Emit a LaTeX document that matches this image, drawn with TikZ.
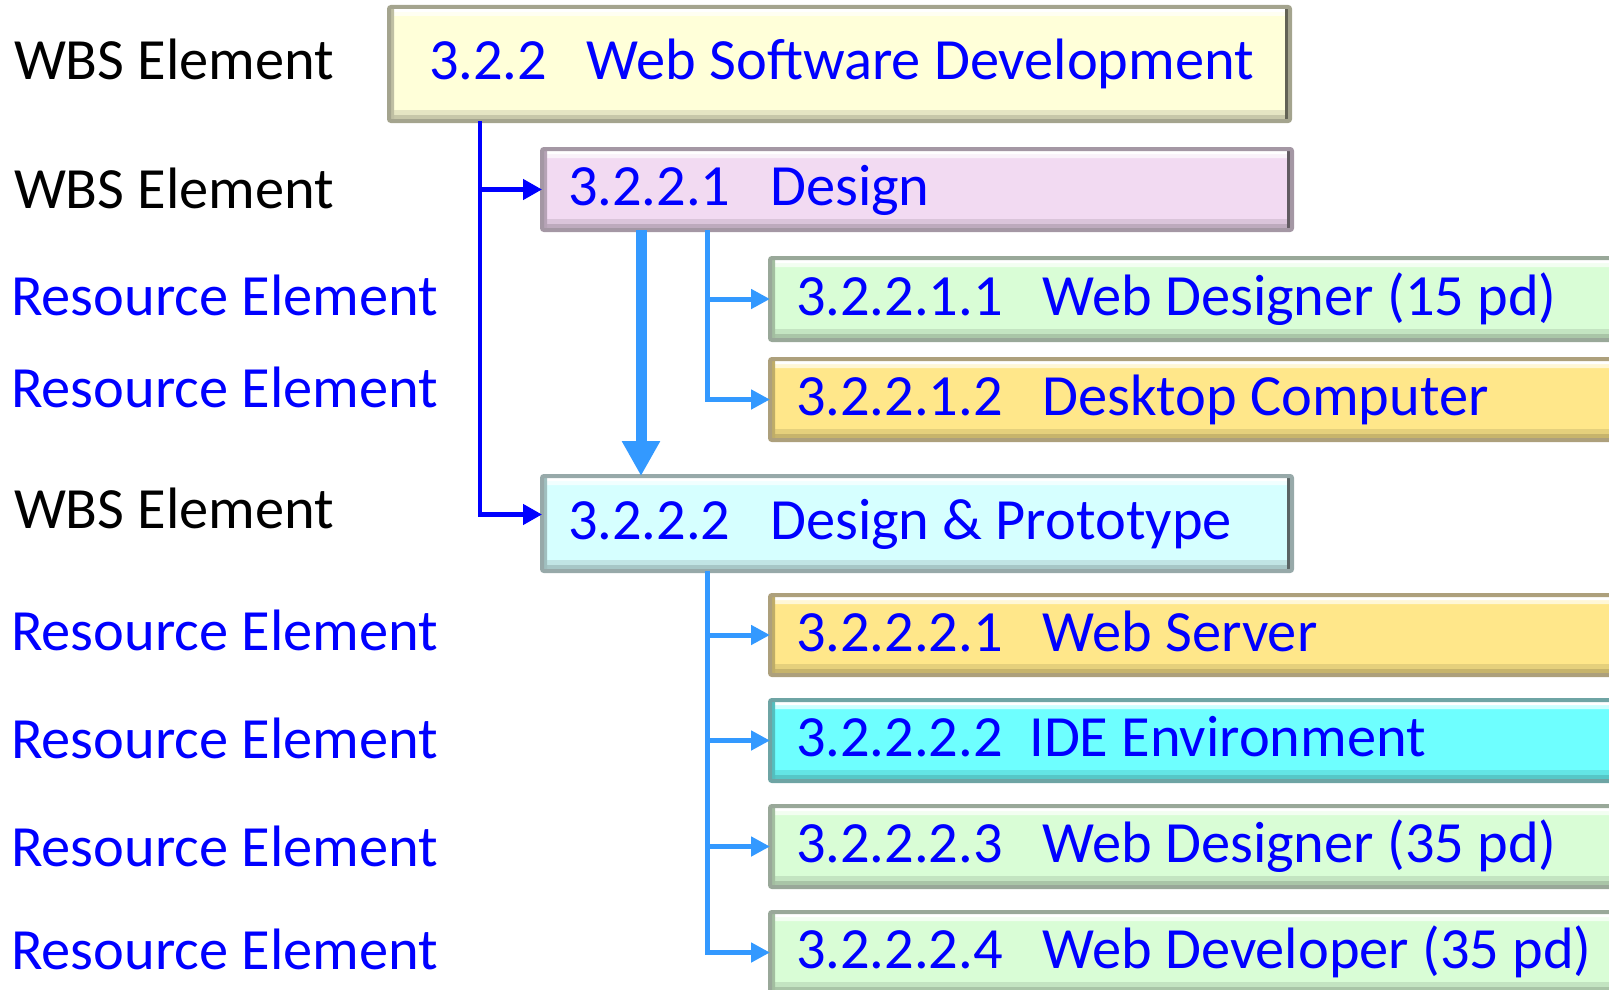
\documentclass[tikz,border=0pt]{standalone}
\usepackage{fontspec}
\setmainfont{Carlito}
\usetikzlibrary{arrows.meta}
\definecolor{tblue}{HTML}{0000FF}
\definecolor{dkblue}{HTML}{0000FF}
\definecolor{ltblue}{HTML}{3399FF}
\definecolor{cTop}{HTML}{FFFFD9}
\definecolor{eTop}{HTML}{A4A48E}
\definecolor{cPink}{HTML}{F2DAF2}
\definecolor{ePink}{HTML}{A497A4}
\definecolor{cLCyan}{HTML}{D6FFFF}
\definecolor{eLCyan}{HTML}{97A9A9}
\definecolor{cGreen}{HTML}{D9FDD6}
\definecolor{eGreen}{HTML}{99A899}
\definecolor{cGold}{HTML}{FFE78A}
\definecolor{eGold}{HTML}{ADA07C}
\definecolor{cCyan}{HTML}{6EFFFF}
\definecolor{eCyan}{HTML}{6EA4A4}
\tikzset{
  box/.style 2 args={draw=#2, line width=4pt, fill=#1, anchor=north west,
    inner sep=0pt, outer sep=0pt, inner xsep=26pt, text height=38pt, text depth=6pt,
    text=tblue, rounded corners=2pt,
    path picture={
      \fill[white!65!#1] (path picture bounding box.north west) rectangle ([yshift=-9pt]path picture bounding box.north east);
      \fill[white] ([yshift=-2pt]path picture bounding box.north west) rectangle ([yshift=-5pt]path picture bounding box.north east);
      \fill[#1!90!black] ([yshift=11pt]path picture bounding box.south west) rectangle (path picture bounding box.south east);
      \fill[#1!78!black] ([yshift=6pt]path picture bounding box.south west) rectangle (path picture bounding box.south east);
      \fill[#1!75!black] (path picture bounding box.north west) rectangle ([xshift=5pt]path picture bounding box.south west);
      \fill[#2!60!black] ([xshift=-5pt]path picture bounding box.north east) rectangle (path picture bounding box.south east);
    }},
  lbl/.style={anchor=base west, inner sep=0pt, outer sep=0pt},
  dk/.style={draw=dkblue, line width=4.5pt, -{Triangle[length=19pt,width=20pt]}},
  lb/.style={draw=ltblue, line width=5pt, -{Triangle[length=19pt,width=19pt]}},
  lbthick/.style={draw=ltblue, line width=11pt, -{Triangle[length=35pt,width=36pt]}},
}
\begin{document}
\begin{tikzpicture}[x=1pt,y=-1pt,font=\fontsize{58.4}{62}\selectfont]
\useasboundingbox (0,0) rectangle (1609,990);
\clip (0,0) rectangle (1609,990);

% boxes
\node[box={cTop}{eTop}, minimum width=901pt, minimum height=114pt, inner xsep=40pt] (top) at (389,7)
  {\makebox[821pt][l]{3.2.2\ \ \ Web Software Development}};
\node[box={cPink}{ePink}, minimum width=750pt, minimum height=81pt] (des) at (542,149)
  {\makebox[698pt][l]{3.2.2.1\ \ \ Design}};
\node[box={cGreen}{eGreen}, minimum width=868pt, minimum height=82pt] (r11) at (770,258)
  {\makebox[816pt][l]{3.2.2.1.1\ \ \ Web Designer (15 pd)}};
\node[box={cGold}{eGold}, minimum width=868pt, minimum height=81pt] (r12) at (770,359)
  {\makebox[816pt][l]{3.2.2.1.2\ \ \ Desktop Computer}};
\node[box={cLCyan}{eLCyan}, minimum width=750pt, minimum height=95pt] (dp) at (542,476)
  {\makebox[698pt][l]{3.2.2.2\ \ \ Design \& Prototype}};
\node[box={cGold}{eGold}, minimum width=868pt, minimum height=80pt] (r21) at (770,595)
  {\makebox[816pt][l]{3.2.2.2.1\ \ \ Web Server}};
\node[box={cCyan}{eCyan}, minimum width=868pt, minimum height=81pt] (r22) at (770,700)
  {\makebox[816pt][l]{3.2.2.2.2\ \ IDE Environment}};
\node[box={cGreen}{eGreen}, minimum width=868pt, minimum height=81pt] (r23) at (770,806)
  {\makebox[816pt][l]{3.2.2.2.3\ \ \ Web Designer (35 pd)}};
\node[box={cGreen}{eGreen}, minimum width=868pt, minimum height=81pt] (r24) at (770,912)
  {\makebox[816pt][l]{3.2.2.2.4\ \ \ Web Developer (35 pd)}};

% left labels
\node[lbl] (w1) at (14,80) {WBS Element};
\node[lbl] (w2) at (14,208) {WBS Element};
\node[lbl] (w3) at (14,528) {WBS Element};
\node[lbl, text=tblue] (re1) at (11,315) {Resource Element};
\node[lbl, text=tblue] (re2) at (11,407) {Resource Element};
\node[lbl, text=tblue] (re3) at (11,650) {Resource Element};
\node[lbl, text=tblue] (re4) at (11,758) {Resource Element};
\node[lbl, text=tblue] (re5) at (11,866) {Resource Element};
\node[lbl, text=tblue] (re6) at (11,969) {Resource Element};

% trunks
\coordinate (t1) at (480,0);
\coordinate (t2) at (641,0);
\coordinate (t3) at (707,0);

% connectors
\draw[dk] (top.south -| t1) |- ([yshift=9pt]dp.west);
\draw[dk] (t1 |- des.west) -- (des.west);
\draw[lbthick] (des.south -| t2) -- (dp.north -| t2);
\draw[lb] (des.south -| t3) |- (r12.west);
\draw[lb] (t3 |- r11.west) -- (r11.west);
\draw[lb] (dp.south -| t3) |- (r24.west);
\draw[lb] (t3 |- r21.west) -- (r21.west);
\draw[lb] (t3 |- r22.west) -- (r22.west);
\draw[lb] (t3 |- r23.west) -- (r23.west);
\end{tikzpicture}
\end{document}
